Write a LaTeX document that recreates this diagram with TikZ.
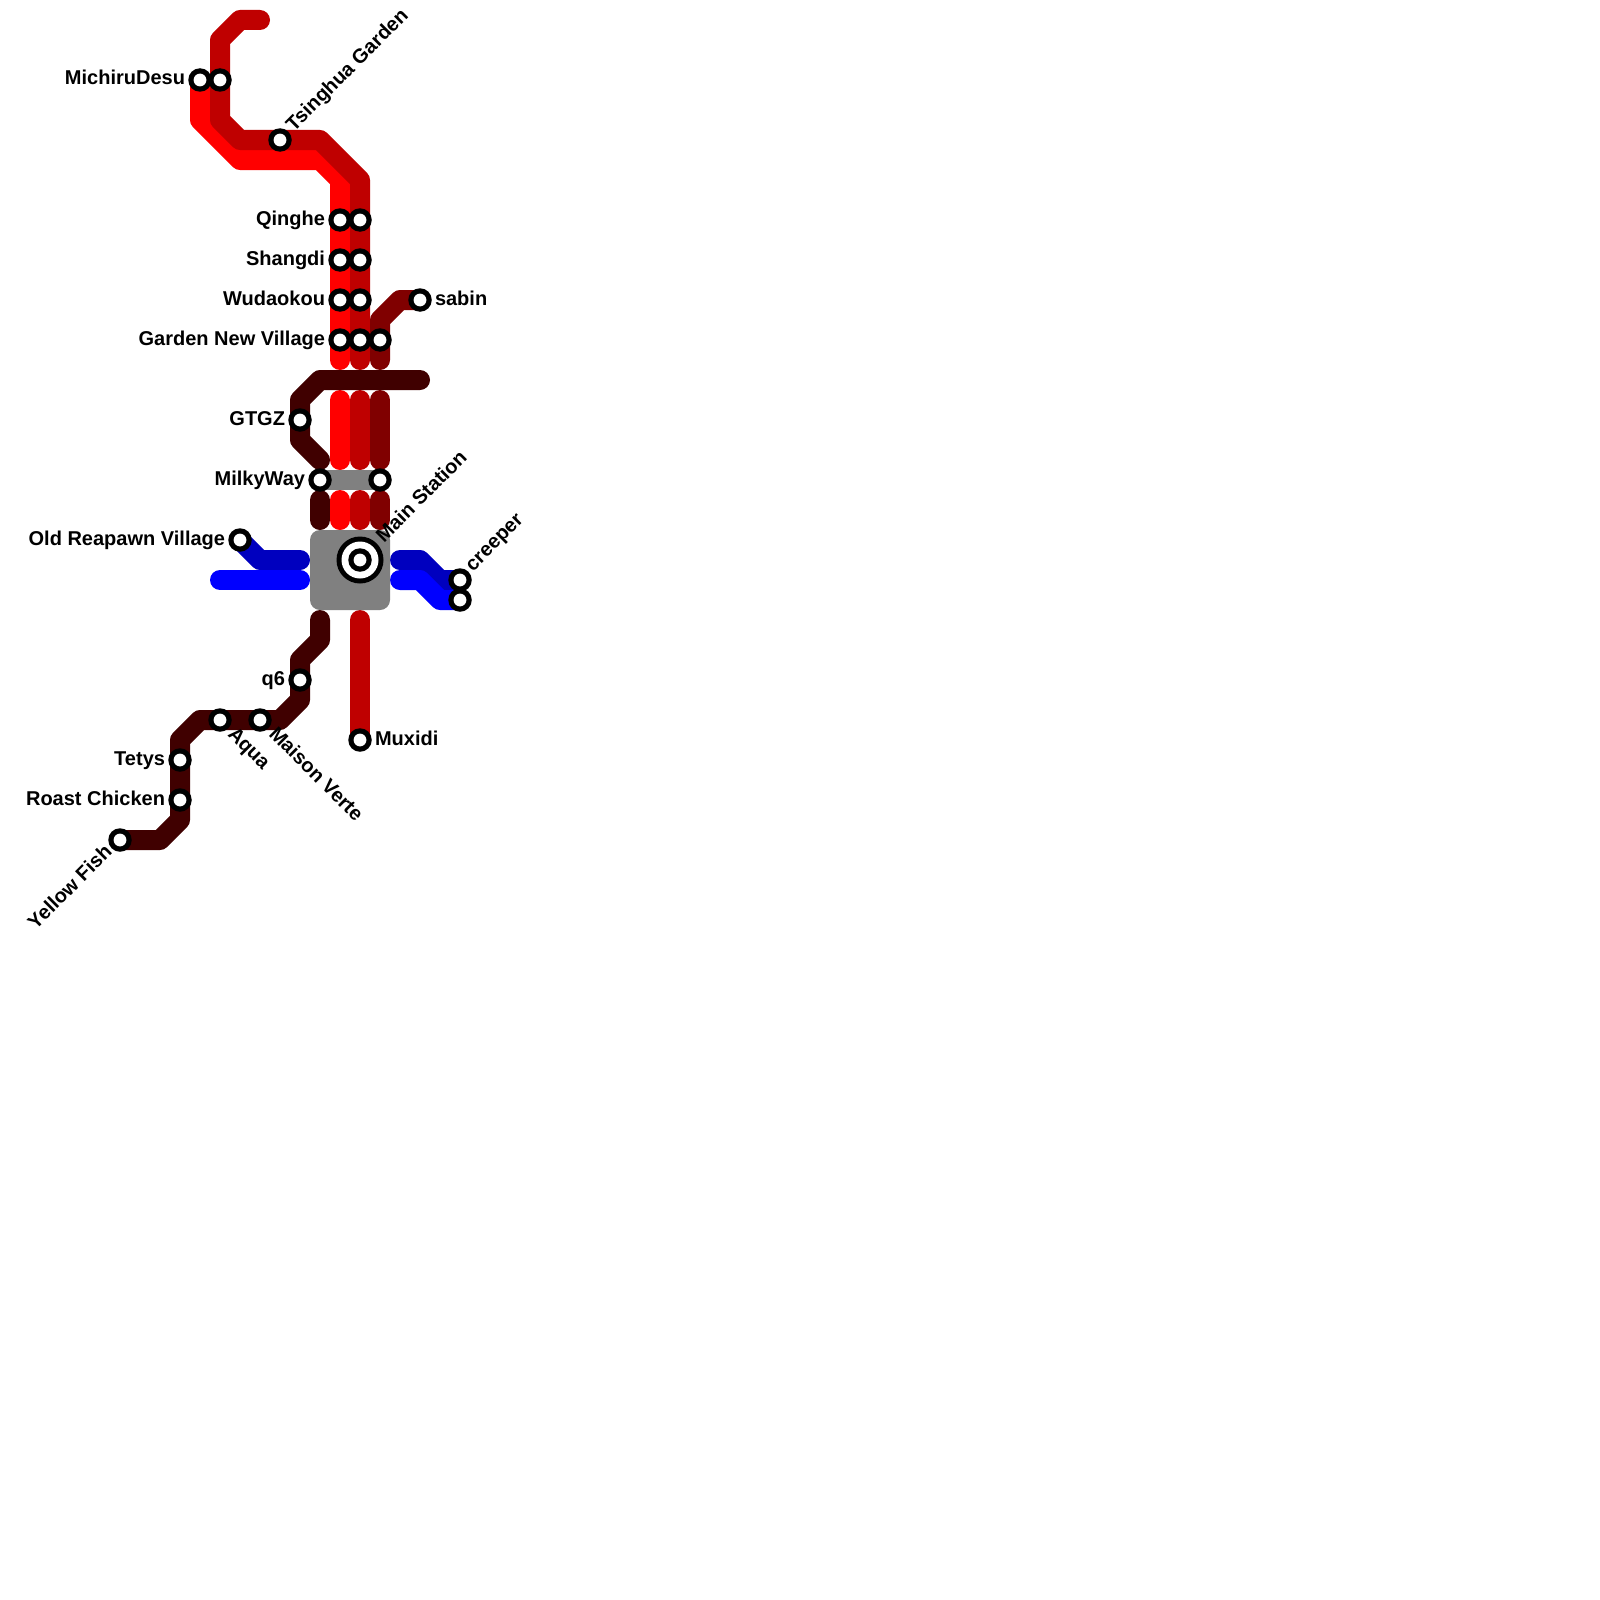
\documentclass[tikz,border=0pt]{standalone}
\usepackage{fontspec}
\setmainfont{Liberation Sans}
\pgfdeclarelayer{lines}
\pgfsetlayers{lines,main}
\definecolor{lnA}{HTML}{FF0000}
\definecolor{lnB}{HTML}{BF0000}
\definecolor{lnC}{HTML}{800000}
\definecolor{lnD}{HTML}{400000}
\definecolor{lnE}{HTML}{0000FF}
\definecolor{lnF}{HTML}{0000BF}
\definecolor{lnG}{HTML}{808080}
\tikzset{
  line/.style={line width=20pt,line cap=round,line join=round},
  stn/.style={circle,fill=black,minimum size=23.5pt,inner sep=0pt,outer sep=0pt,
    path picture={\fill[white] (path picture bounding box.center) circle (6.4pt);}},
  lab/.style={font=\fontsize{20}{22}\selectfont\bfseries,inner sep=0pt,outer sep=0pt,text=black},
  labL/.style={lab,anchor=base east,xshift=-15pt,yshift=-5pt},
  labR/.style={lab,anchor=base west,xshift=15pt,yshift=-5pt},
  labU/.style={lab,anchor=base west,rotate=45},
  labD/.style={lab,anchor=base west,rotate=-45},
  labS/.style={lab,anchor=base east,rotate=45}
}
\begin{document}
\begin{tikzpicture}[x=1pt,y=-1pt]
\begin{pgfonlayer}{lines}
\fill[white] (0,0) rectangle (1600,1600);
\end{pgfonlayer}
\useasboundingbox (0,0) rectangle (1600,1600);
% stations
\node[stn] (michA) at (200,80) {};
\node[stn] (michB) at (220,80) {};
\node[stn] (tsing) at (280,140) {};
\node[stn] (qingA) at (340,220) {};
\node[stn] (qingB) at (360,220) {};
\node[stn] (shanA) at (340,260) {};
\node[stn] (shanB) at (360,260) {};
\node[stn] (wudaA) at (340,300) {};
\node[stn] (wudaB) at (360,300) {};
\node[stn] (gardA) at (340,340) {};
\node[stn] (gardB) at (360,340) {};
\node[stn] (gardC) at (380,340) {};
\node[stn] (sabin) at (420,300) {};
\node[stn] (gtgz) at (300,420) {};
\node[stn] (milkA) at (320,480) {};
\node[stn] (milkB) at (380,480) {};
\node[stn] (reap) at (240,540) {};
\node[stn] (creepA) at (460,580) {};
\node[stn] (creepB) at (460,600) {};
\node[stn] (qsix) at (300,680) {};
\node[stn] (aqua) at (220,720) {};
\node[stn] (maison) at (260,720) {};
\node[stn] (muxidi) at (360,740) {};
\node[stn] (tetys) at (180,760) {};
\node[stn] (roast) at (180,800) {};
\node[stn] (yellow) at (120,840) {};
% main station
\node[circle,fill=black,minimum size=47pt,inner sep=0pt] (mainA) at (360,560) {};
\node[circle,fill=white,minimum size=37pt,inner sep=0pt] (mainB) at (mainA.center) {};
\node[stn] (mainC) at (mainA.center) {};
% labels
\node[labL] (lMich) at (michA.center) {MichiruDesu};
\node[xshift=14pt,yshift=8pt,labU] (lTsing) at (tsing.center) {Tsinghua Garden};
\node[labL] (lQing) at (qingA.center) {Qinghe};
\node[labL] (lShan) at (shanA.center) {Shangdi};
\node[labL] (lWuda) at (wudaA.center) {Wudaokou};
\node[labL] (lGard) at (gardA.center) {Garden New Village};
\node[labR] (lSabin) at (sabin.center) {sabin};
\node[labL] (lGtgz) at (gtgz.center) {GTGZ};
\node[labL] (lMilk) at (milkA.center) {MilkyWay};
\node[labL] (lReap) at (reap.center) {Old Reapawn Village};
\node[xshift=24pt,yshift=17pt,labU] (lMain) at (mainA.center) {Main Station};
\node[xshift=13pt,yshift=8pt,labU] (lCreep) at (creepA.center) {creeper};
\node[labL] (lQsix) at (qsix.center) {q6};
\node[xshift=7pt,yshift=-15pt,labD] (lAqua) at (aqua.center) {Aqua};
\node[xshift=8pt,yshift=-15pt,labD] (lMais) at (maison.center) {Maison Verte};
\node[labR] (lMuxi) at (muxidi.center) {Muxidi};
\node[labL] (lTety) at (tetys.center) {Tetys};
\node[labL] (lRoas) at (roast.center) {Roast Chicken};
\node[xshift=-7pt,yshift=-13pt,labS] (lYell) at (yellow.center) {Yellow Fish};
% bends and free ends
\coordinate (a1) at (200,120); \coordinate (a2) at (240,160); \coordinate (a3) at (320,160); \coordinate (a4) at (340,180);
\coordinate (a5) at (340,360); \coordinate (a6) at (340,400); \coordinate (a7) at (340,460); \coordinate (a8) at (340,500); \coordinate (a9) at (340,520);
\coordinate (b0) at (260,20); \coordinate (b1) at (240,20); \coordinate (b2) at (220,40); \coordinate (b3) at (220,120); \coordinate (b4) at (240,140);
\coordinate (b5) at (320,140); \coordinate (b6) at (360,180); \coordinate (b7) at (360,360); \coordinate (b8) at (360,400); \coordinate (b9) at (360,460);
\coordinate (b10) at (360,500); \coordinate (b11) at (360,520); \coordinate (b12) at (360,620);
\coordinate (c1) at (400,300); \coordinate (c2) at (380,320); \coordinate (c3) at (380,360); \coordinate (c4) at (380,400); \coordinate (c5) at (380,460);
\coordinate (c6) at (380,500); \coordinate (c7) at (380,520);
\coordinate (d0) at (420,380); \coordinate (d1) at (320,380); \coordinate (d2) at (300,400); \coordinate (d3) at (300,440); \coordinate (d4) at (320,460);
\coordinate (d5) at (320,500); \coordinate (d6) at (320,520); \coordinate (d7) at (320,620); \coordinate (d8) at (320,640); \coordinate (d9) at (300,660);
\coordinate (d10) at (300,700); \coordinate (d11) at (280,720); \coordinate (d12) at (200,720); \coordinate (d13) at (180,740); \coordinate (d14) at (180,820);
\coordinate (d15) at (160,840);
\coordinate (e1) at (260,560); \coordinate (e2) at (300,560); \coordinate (e3) at (400,560); \coordinate (e4) at (420,560); \coordinate (e5) at (440,580);
\coordinate (f1) at (220,580); \coordinate (f2) at (300,580); \coordinate (f3) at (400,580); \coordinate (f4) at (420,580); \coordinate (f5) at (440,600);
\begin{pgfonlayer}{lines}
\draw[line,lnA] (michA.center) -- (a1) -- (a2) -- (a3) -- (a4) -- (a5);
\draw[line,lnA] (a6) -- (a7);
\draw[line,lnA] (a8) -- (a9);
\draw[line,lnB] (b0) -- (b1) -- (b2) -- (b3) -- (b4) -- (b5) -- (b6) -- (b7);
\draw[line,lnB] (b8) -- (b9);
\draw[line,lnB] (b10) -- (b11);
\draw[line,lnB] (b12) -- (muxidi.center);
\draw[line,lnC] (sabin.center) -- (c1) -- (c2) -- (c3);
\draw[line,lnC] (c4) -- (c5);
\draw[line,lnC] (c6) -- (c7);
\draw[line,lnD] (d0) -- (d1) -- (d2) -- (d3) -- (d4);
\draw[line,lnD] (d5) -- (d6);
\draw[line,lnD] (d7) -- (d8) -- (d9) -- (d10) -- (d11) -- (d12) -- (d13) -- (d14) -- (d15) -- (yellow.center);
\draw[line,lnF] (reap.center) -- (e1) -- (e2);
\draw[line,lnF] (e3) -- (e4) -- (e5) -- (creepA.center);
\draw[line,lnE] (f1) -- (f2);
\draw[line,lnE] (f3) -- (f4) -- (f5) -- (creepB.center);
\draw[line,lnG] (milkA.center) -- (milkB.center);
\fill[lnG,rounded corners=10pt] (310,530) rectangle (390,610);
\end{pgfonlayer}
\end{tikzpicture}
\end{document}
